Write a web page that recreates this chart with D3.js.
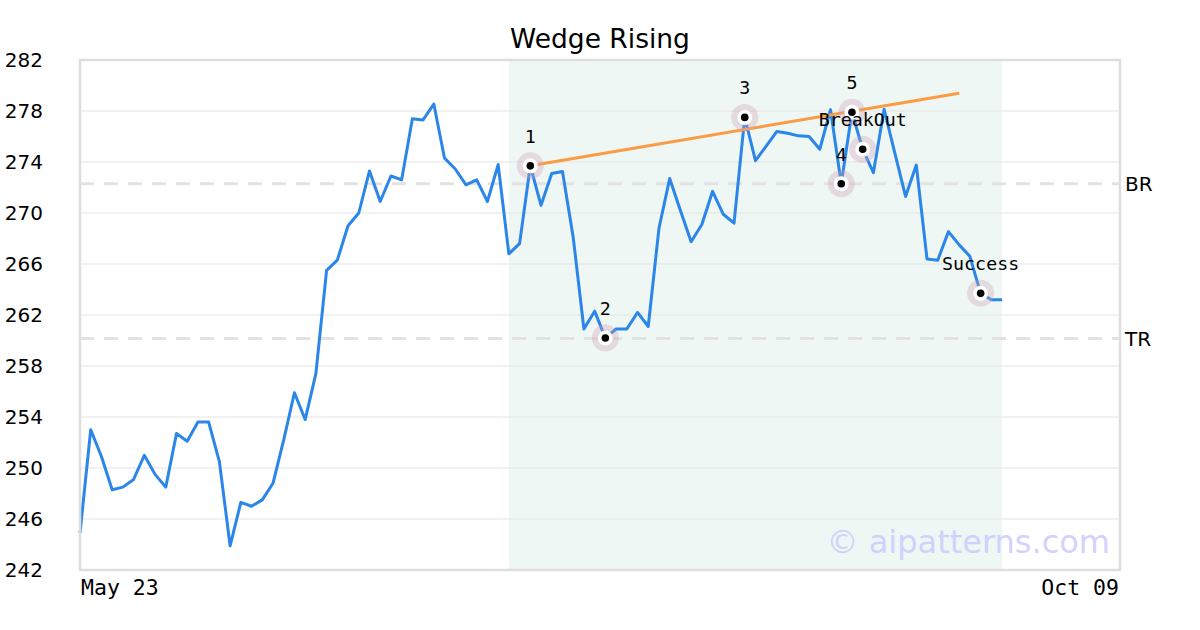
<!DOCTYPE html>
<html><head><meta charset="utf-8">
<script src="https://cdn.jsdelivr.net/npm/d3@7"></script>
<style>body{margin:0;background:#fff}</style>
</head><body>
<svg id="c" width="1200" height="630"></svg>
<script>
const title = "Wedge Rising";
const xLabels = ["May 23", "Oct 09"];
const totalSlots = 98;
const prices = [244.9,253.0,250.9,248.3,248.5,249.1,251.0,249.5,248.5,252.7,
252.1,253.6,253.6,250.5,243.9,247.3,247.0,247.5,248.8,252.2,
255.9,253.8,257.4,265.5,266.3,269.0,270.0,273.3,270.9,272.9,
272.6,277.4,277.3,278.55,274.3,273.45,272.2,272.6,270.9,273.8,
266.8,267.6,273.7,270.6,273.1,273.25,268.1,260.9,262.3,260.2,
260.9,260.9,262.2,261.1,268.8,272.7,270.2,267.75,269.1,271.7,
269.9,269.2,277.5,274.1,275.25,276.4,276.25,276.05,276.0,275.0,
278.1,272.3,277.9,275.0,273.16,278.13,274.7,271.3,273.76,266.4,
266.3,268.54,267.5,266.6,263.7,263.2,263.2];
const yTicks = [242,246,250,254,258,262,266,270,274,278,282];
const shadeRange = [40, 86];
const trend = [{i:42, v:273.7},{i:82, v:279.4}];
const levels = [{name:"BR", v:272.3},{name:"TR", v:260.15}];
const markers = [
  {i:42, label:"1"},{i:49, label:"2"},{i:62, label:"3"},{i:71, label:"4"},
  {i:72, label:"5"},{i:73, label:"BreakOut"},{i:84, label:"Success"}];

const svg = d3.select("#c");
const L=80,R=1120,T=60,B=570;
const x = d3.scaleLinear().domain([0,totalSlots-1]).range([L,R]);
const y = d3.scaleLinear().domain([242,282]).range([B,T]);

svg.append("text").attr("x",600).attr("y",48).attr("text-anchor","middle")
  .attr("font-family","DejaVu Sans").attr("font-size",26.5).text(title);

svg.append("rect").attr("x",x(shadeRange[0])).attr("y",T)
  .attr("width",x(shadeRange[1])-x(shadeRange[0])).attr("height",B-T).attr("fill","#eff7f4");

const gy = svg.append("g");
gy.selectAll("line").data(yTicks).join("line")
  .attr("x1",L).attr("x2",R).attr("y1",d=>y(d)).attr("y2",d=>y(d))
  .attr("stroke","#e3e3e3").attr("stroke-width",1);
gy.selectAll("text").data(yTicks).join("text")
  .attr("x",43).attr("y",d=>y(d)).attr("dy","0.35em").attr("text-anchor","end")
  .attr("font-family","DejaVu Sans").attr("font-size",20).text(d=>d);

svg.selectAll(".lv").data(levels).join("line")
  .attr("x1",L).attr("x2",R).attr("y1",d=>y(d.v)).attr("y2",d=>y(d.v))
  .attr("stroke","#e2e2e2").attr("stroke-width",3).attr("stroke-dasharray","14,10");
svg.selectAll(".lvt").data(levels).join("text")
  .attr("x",1125).attr("y",d=>y(d.v)).attr("dy","0.35em")
  .attr("font-family","DejaVu Sans").attr("font-size",20).text(d=>d.name);

const line = d3.line().x((d,i)=>x(i)).y(d=>y(d));
svg.append("path").datum(prices).attr("d",line).attr("fill","none")
  .attr("stroke","#2a86e8").attr("stroke-width",3).attr("stroke-linejoin","round");

svg.append("path").datum(trend).attr("d",d3.line().x(d=>x(d.i)).y(d=>y(d.v)))
  .attr("fill","none").attr("stroke","#fb9b43").attr("stroke-width",3);

const mg = svg.selectAll(".mk").data(markers).join("g")
  .attr("transform",d=>`translate(${x(d.i)},${y(prices[d.i])})`);
mg.append("circle").attr("r",13.5).attr("fill","rgba(210,160,180,0.35)");
mg.append("circle").attr("r",7.5).attr("fill","#fff");
mg.append("circle").attr("r",3.8).attr("fill","#000");
mg.append("text").attr("y",-23).attr("text-anchor","middle")
  .attr("font-family","DejaVu Sans Mono").attr("font-size",18.3).text(d=>d.label);

svg.append("rect").attr("x",L).attr("y",T).attr("width",R-L).attr("height",B-T)
  .attr("fill","none").attr("stroke","#dedede").attr("stroke-width",2.5);

svg.append("text").attr("x",L+1).attr("y",595).attr("font-family","DejaVu Sans Mono")
  .attr("font-size",21.5).text(xLabels[0]);
svg.append("text").attr("x",R-1).attr("y",595).attr("text-anchor","end")
  .attr("font-family","DejaVu Sans Mono").attr("font-size",21.5).text(xLabels[1]);

svg.append("text").attr("x",1110).attr("y",553).attr("text-anchor","end")
  .attr("font-family","DejaVu Sans").attr("font-size",32).attr("fill","#ccccff")
  .attr("fill-opacity",0.9).text("© aipatterns.com");
</script>
</body></html>
